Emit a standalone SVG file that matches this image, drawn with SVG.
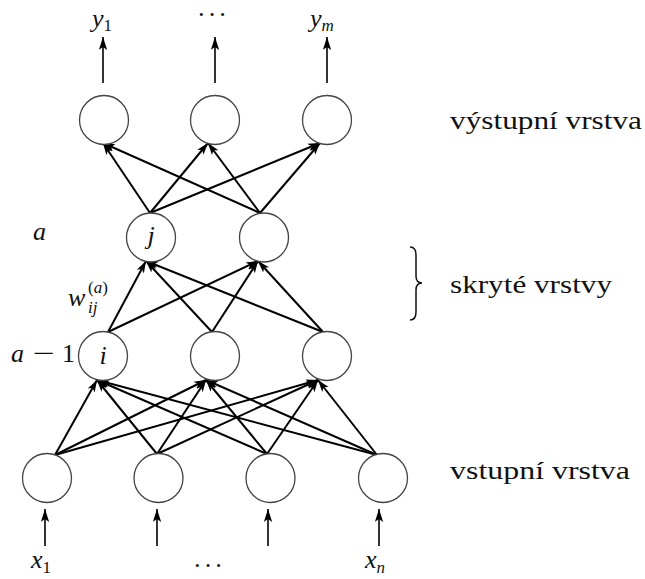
<svg xmlns="http://www.w3.org/2000/svg" width="645" height="579" viewBox="0 0 645 579">
<defs>
<style>
.node circle{fill:#fff;stroke:#444;stroke-width:1.3}
.conn line{stroke:#000;stroke-width:2;marker-end:url(#ah)}
.io line{stroke:#000;stroke-width:1.6;marker-end:url(#ah2)}
.m{font-style:italic;font-size:26px}
.up{font-size:26px}
.sub{font-size:17px}
.t{font-size:26px}
.dots{font-size:26px}
</style>
<marker id="ah" markerUnits="userSpaceOnUse" markerWidth="14" markerHeight="10" refX="12" refY="4.5" orient="auto"><path d="M0,0.5 L12,4.5 L0,8.5 L3,4.5 z" fill="#000"/></marker>
<marker id="ah2" markerUnits="userSpaceOnUse" markerWidth="14" markerHeight="10" refX="13" refY="4.5" orient="auto"><path d="M0,0.3 L13,4.5 L0,8.7 L3,4.5 z" fill="#000"/></marker>
</defs>
<rect width="645" height="579" fill="#fff"/>

<g id="connectors" class="conn">
<line x1="55" y1="455" x2="97" y2="380"/>
<line x1="55" y1="455" x2="206" y2="380"/>
<line x1="55" y1="455" x2="318" y2="380"/>
<line x1="157" y1="454" x2="97" y2="380"/>
<line x1="157" y1="454" x2="206" y2="380"/>
<line x1="157" y1="454" x2="318" y2="380"/>
<line x1="267" y1="454" x2="97" y2="380"/>
<line x1="267" y1="454" x2="206" y2="380"/>
<line x1="267" y1="454" x2="318" y2="380"/>
<line x1="377" y1="455" x2="97" y2="380"/>
<line x1="377" y1="455" x2="206" y2="380"/>
<line x1="377" y1="455" x2="318" y2="380"/>
<line x1="108" y1="332" x2="146" y2="261"/>
<line x1="108" y1="332" x2="258" y2="261"/>
<line x1="212" y1="332" x2="146" y2="261"/>
<line x1="212" y1="332" x2="258" y2="261"/>
<line x1="323" y1="332" x2="146" y2="261"/>
<line x1="323" y1="332" x2="258" y2="261"/>
<line x1="150" y1="213" x2="103" y2="143"/>
<line x1="150" y1="213" x2="208" y2="143"/>
<line x1="150" y1="213" x2="320" y2="143"/>
<line x1="260" y1="213" x2="103" y2="143"/>
<line x1="260" y1="213" x2="208" y2="143"/>
<line x1="260" y1="213" x2="320" y2="143"/>
</g>

<g id="io-arrows" class="io">
<line x1="103" y1="83" x2="103" y2="37"/>
<line x1="215" y1="83" x2="215" y2="37"/>
<line x1="327" y1="83" x2="327" y2="37"/>
<line x1="45" y1="546" x2="45" y2="509"/>
<line x1="157" y1="546" x2="157" y2="509"/>
<line x1="268" y1="546" x2="268" y2="509"/>
<line x1="379" y1="546" x2="379" y2="509"/>
</g>

<g font-family="'Liberation Serif', 'DejaVu Serif', serif" fill="#111">
<g id="out1" class="node"><circle cx="104" cy="120" r="24.5"/></g>
<g id="out2" class="node"><circle cx="215" cy="120" r="24.5"/></g>
<g id="out3" class="node"><circle cx="327" cy="120" r="24.5"/></g>

<g id="hid-j" class="node"><circle cx="151" cy="237.5" r="24.5"/><text class="m" x="151" y="244" text-anchor="middle">j</text></g>
<g id="hid-a2" class="node"><circle cx="264" cy="237.5" r="24.5"/></g>

<g id="hid-i" class="node"><circle cx="103" cy="356" r="24.5"/><text class="m" x="103" y="364" text-anchor="middle">i</text></g>
<g id="hid-b2" class="node"><circle cx="215" cy="356" r="24.5"/></g>
<g id="hid-b3" class="node"><circle cx="327" cy="356" r="24.5"/></g>

<g id="in1" class="node"><circle cx="47" cy="478" r="24.5"/></g>
<g id="in2" class="node"><circle cx="158.5" cy="478" r="24.5"/></g>
<g id="in3" class="node"><circle cx="270.5" cy="478" r="24.5"/></g>
<g id="in4" class="node"><circle cx="383" cy="478" r="24.5"/></g>

<g id="labels">
<text class="m" x="92" y="27">y<tspan class="sub" font-style="normal" dy="4">1</tspan></text>
<text class="dots" x="197" y="23" textLength="30" lengthAdjust="spacing">···</text>
<text class="m" x="310" y="27">y<tspan class="sub" dy="4">m</tspan></text>

<text class="m" x="31" y="568">x<tspan class="sub" font-style="normal" dy="5">1</tspan></text>
<text class="dots" x="193" y="574" textLength="30" lengthAdjust="spacing">···</text>
<text class="m" x="365" y="568">x<tspan class="sub" dy="5">n</tspan></text>

<text class="m" x="33" y="240">a</text>
<text class="m" x="11" y="362">a</text>
<text class="up" x="33" y="362" textLength="22" lengthAdjust="spacingAndGlyphs">−</text>
<text class="up" x="62" y="362">1</text>

<text class="m" x="68" y="306">w</text>
<text class="up sub" x="88" y="293">(<tspan font-style="italic">a</tspan>)</text>
<text class="m sub" x="88" y="313">ij</text>

<path d="M410,247 Q416,247 416,255 L416,276 Q416,283 422,283 Q416,283 416,290 L416,312 Q416,320 410,320" fill="none" stroke="#111" stroke-width="1.5"/>

<text class="t" x="450" y="129" textLength="192" lengthAdjust="spacingAndGlyphs">výstupní vrstva</text>
<text class="t" x="450" y="293" textLength="162" lengthAdjust="spacingAndGlyphs">skryté vrstvy</text>
<text class="t" x="450" y="479" textLength="180" lengthAdjust="spacingAndGlyphs">vstupní vrstva</text>
</g>
</g>
</svg>
